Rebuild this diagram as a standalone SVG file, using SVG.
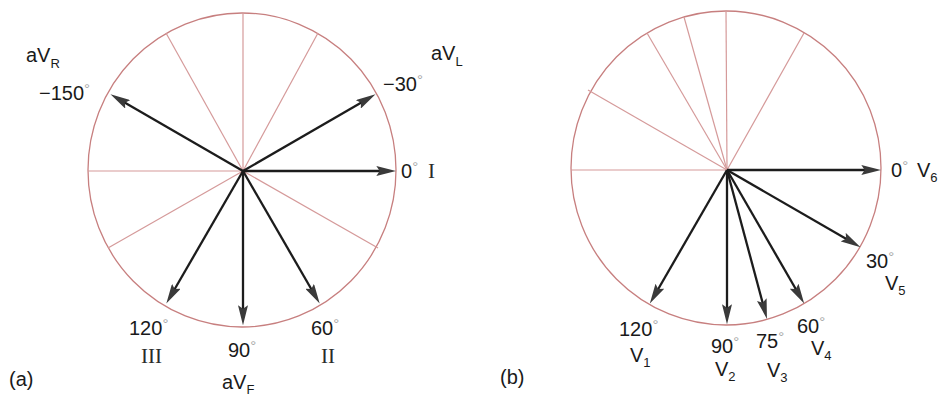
<svg xmlns="http://www.w3.org/2000/svg" width="942" height="398" viewBox="0 0 942 398">
<style>
.rim{fill:none;stroke:#c77f7f;stroke-width:1.3}
.spoke{stroke:#d59a9a;stroke-width:1.2}
.arr{stroke:#1c1c1c;stroke-width:2.3;fill:none;marker-end:url(#ah)}
.t{font-family:"Liberation Sans",Arial,sans-serif;font-size:20px;fill:#1a1a1a}
.rn{font-family:"Liberation Serif","Times New Roman",serif;font-size:21px;fill:#2a2a2a}
.sub{font-size:13px}
.deg{font-size:15px;fill:#a8a8a8}
</style>
<defs>
<marker id="ah" markerUnits="userSpaceOnUse" markerWidth="20" markerHeight="10" refX="6" refY="4.5" orient="auto" viewBox="0 0 18 9">
<path d="M0,0 L18,4.5 L0,9 L3,4.5 z" fill="#3a3a3a"/>
</marker>
</defs>

<g id="circle-a">
<ellipse class="rim" cx="242" cy="170" rx="154" ry="157"/>
<line class="spoke" x1="243" y1="171" x2="318" y2="33"/>
<line class="spoke" x1="243" y1="171" x2="243" y2="13"/>
<line class="spoke" x1="243" y1="171" x2="166" y2="33"/>
<line class="spoke" x1="243" y1="171" x2="88" y2="171"/>
<line class="spoke" x1="243" y1="171" x2="108" y2="248"/>
<line class="spoke" x1="243" y1="171" x2="378" y2="248"/>
</g>

<g id="circle-b">
<ellipse class="rim" cx="726" cy="168" rx="155" ry="157"/>
<line class="spoke" x1="727" y1="170" x2="804" y2="33"/>
<line class="spoke" x1="727" y1="170" x2="726" y2="11"/>
<line class="spoke" x1="727" y1="170" x2="684" y2="17"/>
<line class="spoke" x1="727" y1="170" x2="647" y2="33"/>
<line class="spoke" x1="727" y1="170" x2="588" y2="90"/>
<line class="spoke" x1="727" y1="170" x2="571" y2="170"/>
</g>

<g id="connectors">
<line class="arr" x1="243" y1="171" x2="383" y2="171"/>
<line class="arr" x1="243" y1="171" x2="364" y2="101"/>
<line class="arr" x1="243" y1="171" x2="122" y2="101"/>
<line class="arr" x1="243" y1="171" x2="313" y2="292"/>
<line class="arr" x1="243" y1="171" x2="243" y2="312"/>
<line class="arr" x1="243" y1="171" x2="173" y2="292"/>

<line class="arr" x1="727" y1="170" x2="868" y2="170"/>
<line class="arr" x1="727" y1="170" x2="849" y2="240.5"/>
<line class="arr" x1="727" y1="170" x2="797.5" y2="292"/>
<line class="arr" x1="727" y1="170" x2="763.5" y2="306"/>
<line class="arr" x1="727" y1="170" x2="727" y2="311"/>
<line class="arr" x1="727" y1="170" x2="656.5" y2="292"/>
</g>

<g id="labels-a">
<g id="avr"><text class="t" x="26" y="62">aV<tspan class="sub" dy="6">R</tspan></text></g>
<g id="m150"><text class="t" x="39" y="100">−150<tspan class="deg" dy="-6">°</tspan></text></g>
<g id="avl"><text class="t" x="431" y="60">aV<tspan class="sub" dy="6">L</tspan></text></g>
<g id="m30"><text class="t" x="383" y="91">−30<tspan class="deg" dy="-6">°</tspan></text></g>
<g id="lead-i"><text class="t" x="401" y="178">0<tspan class="deg" dy="-6">°</tspan></text><text class="rn" x="428" y="178">I</text></g>
<g id="lead-iii"><text class="t" x="129" y="335">120<tspan class="deg" dy="-6">°</tspan></text><text class="rn" x="141" y="363">III</text></g>
<g id="lead-ii"><text class="t" x="311" y="335">60<tspan class="deg" dy="-6">°</tspan></text><text class="rn" x="321" y="363">II</text></g>
<g id="avf"><text class="t" x="228" y="357">90<tspan class="deg" dy="-6">°</tspan></text><text class="t" x="222" y="389">aV<tspan class="sub" dy="5">F</tspan></text></g>
<g id="cap-a"><text class="t" x="9" y="386">(a)</text></g>
</g>

<g id="labels-b">
<g id="v6"><text class="t" x="891" y="177">0<tspan class="deg" dy="-6">°</tspan></text><text class="t" x="917" y="177">V<tspan class="sub" dy="5">6</tspan></text></g>
<g id="v5"><text class="t" x="866" y="268">30<tspan class="deg" dy="-6">°</tspan></text><text class="t" x="885" y="290">V<tspan class="sub" dy="5">5</tspan></text></g>
<g id="v1"><text class="t" x="619" y="336">120<tspan class="deg" dy="-6">°</tspan></text><text class="t" x="630" y="362">V<tspan class="sub" dy="5">1</tspan></text></g>
<g id="v2"><text class="t" x="711" y="353">90<tspan class="deg" dy="-6">°</tspan></text><text class="t" x="715" y="376">V<tspan class="sub" dy="5">2</tspan></text></g>
<g id="v3"><text class="t" x="756" y="348">75<tspan class="deg" dy="-6">°</tspan></text><text class="t" x="767" y="377">V<tspan class="sub" dy="5">3</tspan></text></g>
<g id="v4"><text class="t" x="797" y="333">60<tspan class="deg" dy="-6">°</tspan></text><text class="t" x="811" y="355">V<tspan class="sub" dy="5">4</tspan></text></g>
<g id="cap-b"><text class="t" x="500" y="384">(b)</text></g>
</g>
</svg>
